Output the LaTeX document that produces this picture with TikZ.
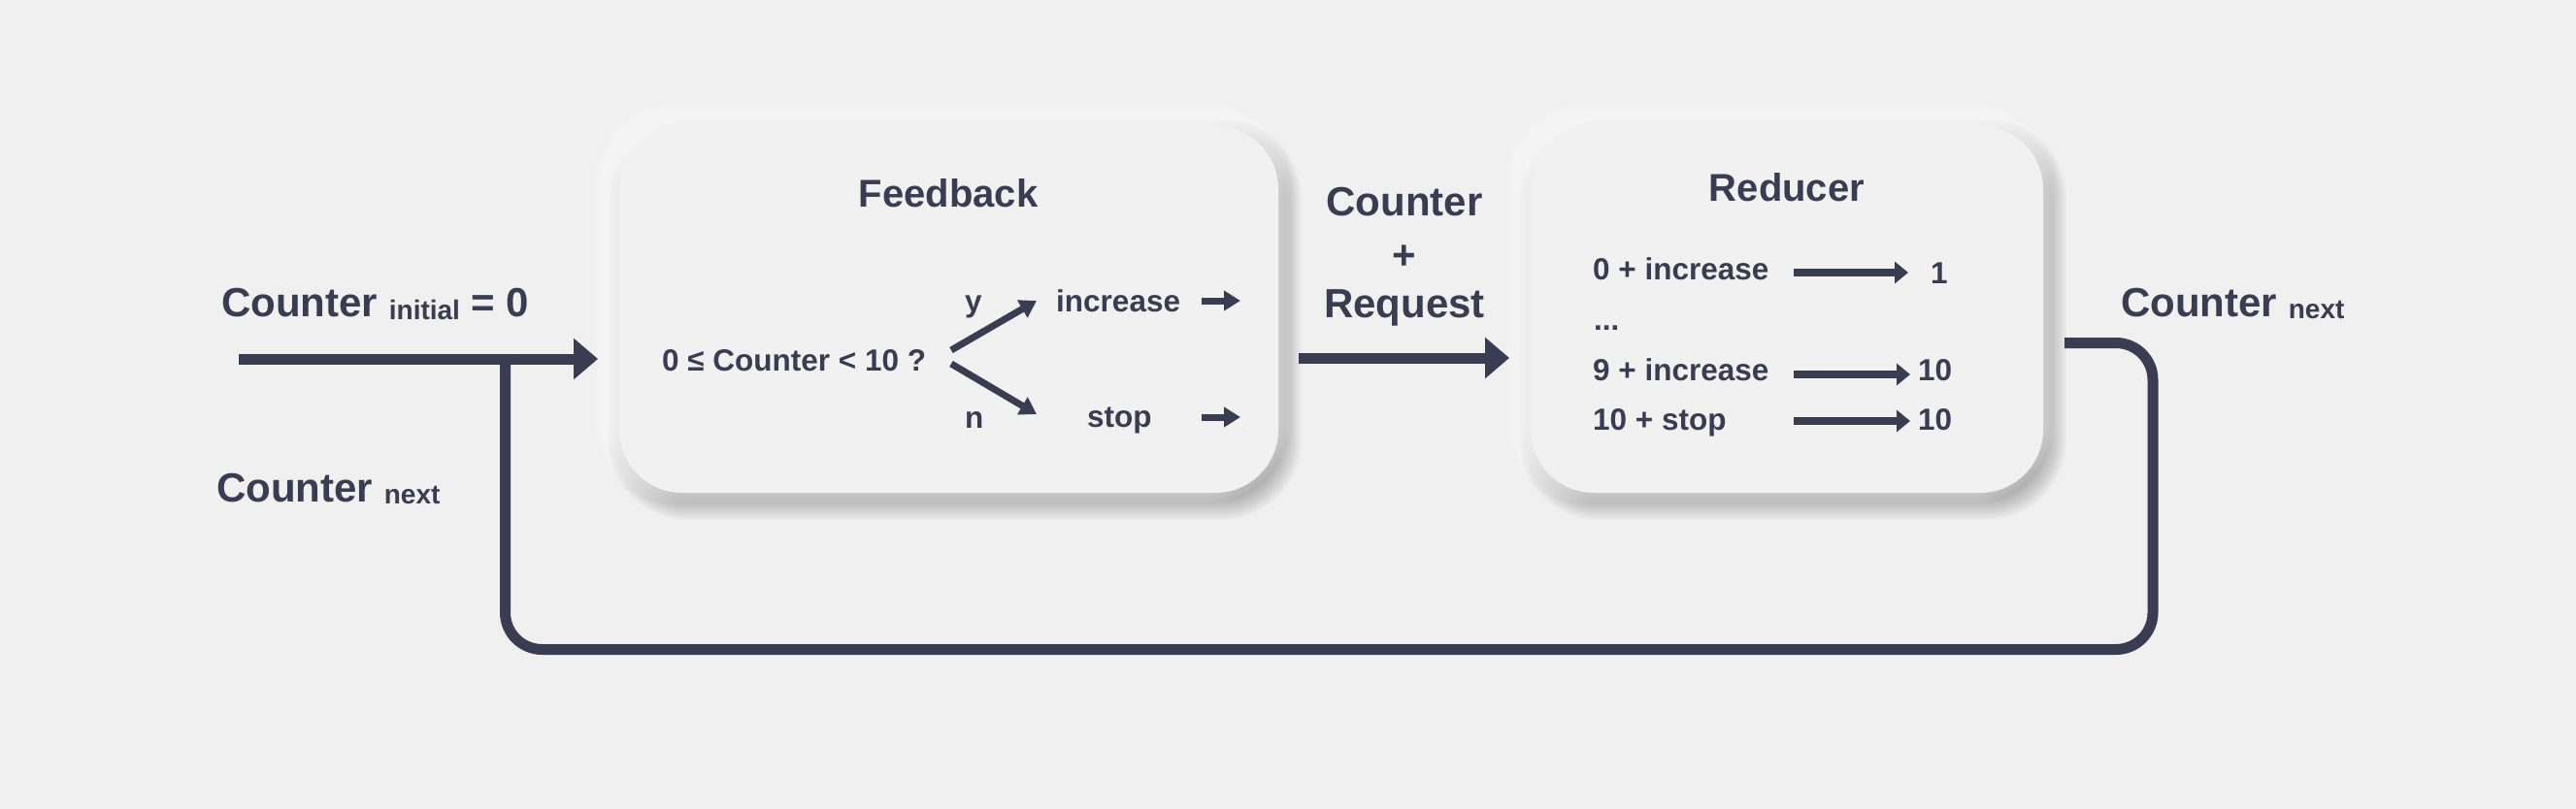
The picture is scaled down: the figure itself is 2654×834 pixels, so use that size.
\documentclass[tikz,border=0pt]{standalone}
\usepackage{fontspec}
\setmainfont{Liberation Sans}
\usetikzlibrary{arrows.meta}
\definecolor{ink}{RGB}{58,60,82}
\definecolor{bg}{RGB}{240,240,240}
\definecolor{boxfill}{RGB}{241,241,241}
\newcommand\fsz[1]{\fontsize{#1}{#1}\selectfont}
\begin{document}
\begin{tikzpicture}[x=1pt,y=-1pt,
  lbl/.style={text=ink,font=\bfseries\fsz{42},inner sep=0pt},
  inner/.style={text=ink,font=\bfseries\fsz{31.5},inner sep=0pt},
  ttl/.style={text=ink,font=\bfseries\fsz{40},inner sep=0pt},
  panel/.style={fill=boxfill,rounded corners=65pt,minimum width=#1,minimum height=378pt,inner sep=0pt},
  darklayer/.style={fill=black,opacity=0.022},
  lightlayer/.style={fill=white,opacity=0.09},
  bigline/.style={draw=ink,line width=11pt},
  bigarrow/.style={bigline,-{Triangle[length=25pt,width=41pt]}},
  smallarrow/.style={draw=ink,line width=7pt,-{Triangle[length=17pt,width=20pt]}},
  rowarrow/.style={draw=ink,line width=8pt,-{Triangle[length=14pt,width=22pt]}},
]
\fill[bg] (0,0) rectangle (2654,834);
\useasboundingbox (0,0) rectangle (2654,834);

% soft shadows (dark bottom-right, light top-left)
\foreach \cx/\hw in {977.5/339.5, 1841/264} {
  \foreach \e in {-12,-10,...,18} {
    \pgfmathsetmacro\rr{65+\e}
    \pgfmathsetmacro\xa{\cx-\hw-\e+6}
    \pgfmathsetmacro\xb{\cx+\hw+\e+6}
    \pgfmathsetmacro\ya{130-\e+10}
    \pgfmathsetmacro\yb{508+\e+10}
    \fill[darklayer,rounded corners=\rr pt] (\xa,\ya) rectangle (\xb,\yb);
  }
  \foreach \e in {-12,-10,...,18} {
    \pgfmathsetmacro\rr{65+\e}
    \pgfmathsetmacro\xa{\cx-\hw-\e-8}
    \pgfmathsetmacro\xb{\cx+\hw+\e-8}
    \pgfmathsetmacro\ya{130-\e-8}
    \pgfmathsetmacro\yb{508+\e-8}
    \fill[lightlayer,rounded corners=\rr pt] (\xa,\ya) rectangle (\xb,\yb);
  }
}

% panels
\node[panel=679pt] (fb) at (977.5,319) {};
\node[panel=528pt] (rd) at (1841,319) {};

% outer labels
\node[lbl,anchor=base west] (cinit) at (228,326) {Counter {\fsz{28}\raisebox{-3pt}{initial}} = 0};
\node[lbl,anchor=base west] (cnextL) at (223,517) {Counter {\fsz{28}\raisebox{-2pt}{next}}};
\node[lbl,anchor=base west] (cnextR) at (2185,326) {Counter {\fsz{28}\raisebox{-2pt}{next}}};
\node[lbl,anchor=base] (mc) at (1447,223) {Counter};
\node[lbl,anchor=center] (mp) at (1447,265) {+};
\node[lbl,anchor=base] (mr) at (1447,327) {Request};

% feedback content
\node[ttl,anchor=base] (fbt) at (977,214) {Feedback};
\node[inner,anchor=base west] (cond) at (682,382) {0 ≤ Counter < 10 ?};
\node[inner,anchor=base west] (ly) at (994,321) {y};
\node[inner,anchor=base west] (ln) at (994,441) {n};
\node[inner,anchor=base west] (inc) at (1088,321) {increase};
\node[inner,anchor=base west] (stp) at (1120,440) {stop};
\coordinate (cy) at (980,361);
\coordinate (cn) at (980,375);
\coordinate (ty) at (1068,310);
\coordinate (tn) at (1068,427);
\draw[smallarrow] (cy) -- (ty);
\draw[smallarrow] (cn) -- (tn);
\coordinate (ia) at (1238,310);
\coordinate (ib) at (1278,310);
\coordinate (sa) at (1238,430);
\coordinate (sb) at (1278,430);
\draw[smallarrow] (ia) -- (ib);
\draw[smallarrow] (sa) -- (sb);

% reducer content
\node[ttl,anchor=base] (rdt) at (1841,208) {Reducer};
\node[inner,anchor=base west] (r1) at (1641,288) {0 + increase};
\node[inner,anchor=base west] (rdots) at (1642,340) {...};
\node[inner,anchor=base west] (r2) at (1641,392) {9 + increase};
\node[inner,anchor=base west] (r3) at (1641,443) {10 + stop};
\node[inner,anchor=base west] (v1) at (1989,292) {1};
\node[inner,anchor=base west] (v2) at (1976,392) {10};
\node[inner,anchor=base west] (v3) at (1976,443) {10};
\coordinate (a1) at (1848,281);
\coordinate (b1) at (1966,281);
\coordinate (a2) at (1848,386);
\coordinate (b2) at (1968,386);
\coordinate (a3) at (1848,434);
\coordinate (b3) at (1968,434);
\draw[rowarrow] (a1) -- (b1);
\draw[rowarrow] (a2) -- (b2);
\draw[rowarrow] (a3) -- (b3);

% main flow
\coordinate (start) at (246,370);
\coordinate (tipA) at (616,370);
\coordinate (jn) at (520.5,366);
\coordinate (c1) at (520.5,669.5);
\coordinate (c2) at (2218,669.5);
\coordinate (c3) at (2218,353.5);
\coordinate (outR) at (2127,353.5);
\coordinate (m1) at (1338,369);
\coordinate (m2) at (1555,369);
\draw[bigline,rounded corners=38pt] (outR) -- (c3) -- (c2) -- (c1) -- (jn);
\draw[bigarrow] (start) -- (tipA);
\draw[bigarrow] (m1) -- (m2);
\end{tikzpicture}
\end{document}
